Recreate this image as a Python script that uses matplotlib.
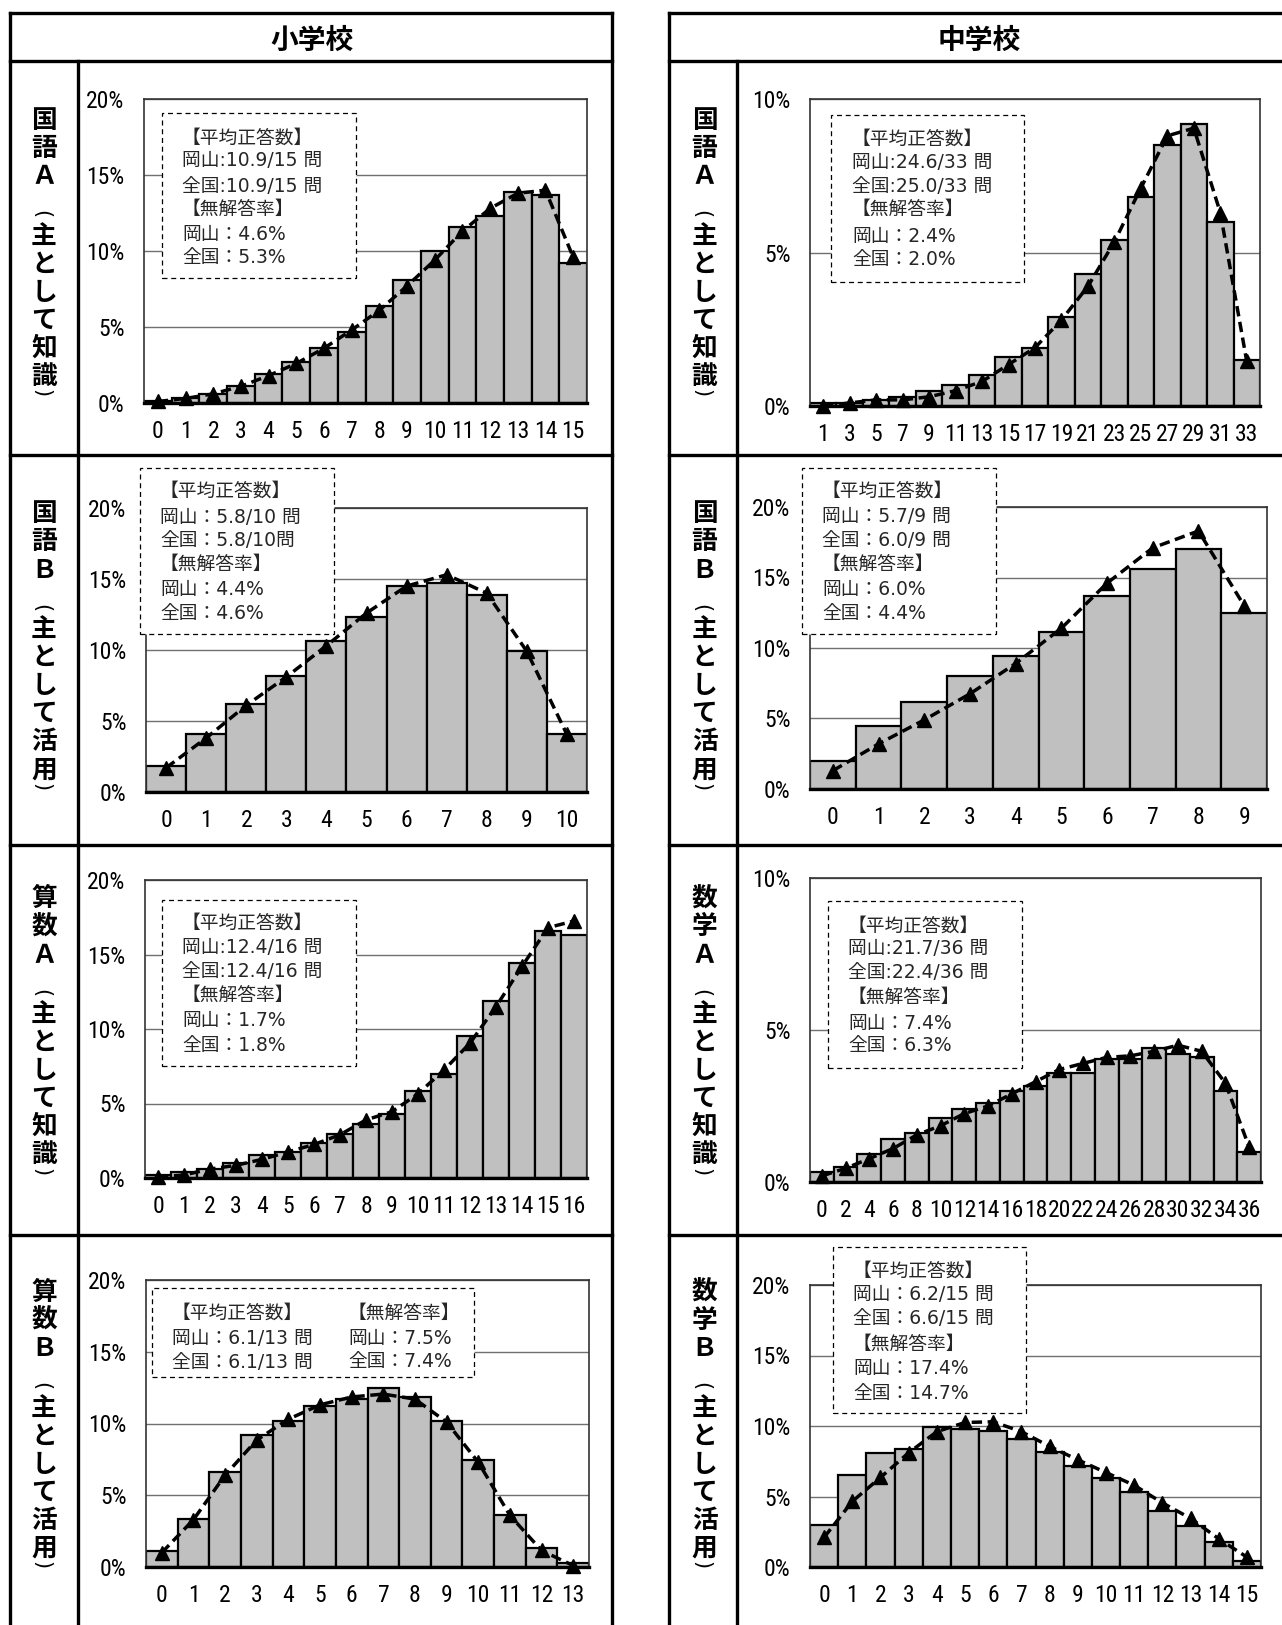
import matplotlib
matplotlib.use("Agg")
import matplotlib.pyplot as plt
from matplotlib.patches import Rectangle
from matplotlib.lines import Line2D
import numpy as np

W, H = 1282, 1625

# ---------------- data (% of students by number of correct answers) ----------------
# 小学校 国語A
shoKokugoA_labels = [str(i) for i in range(0, 16)]
shoKokugoA_okayama = [0.1, 0.3, 0.6, 1.1, 1.9, 2.7, 3.6, 4.7, 6.4, 8.1, 10.0, 11.6, 12.3, 13.9, 13.7, 9.2]
shoKokugoA_zenkoku = [0.1, 0.3, 0.6, 1.1, 1.8, 2.6, 3.6, 4.8, 6.1, 7.7, 9.4, 11.3, 12.8, 13.8, 14.0, 9.6]
shoKokugoA_text = ["【平均正答数】", "岡山:10.9/15 問", "全国:10.9/15 問",
                   "【無解答率】", "岡山：4.6%", "全国：5.3%"]

# 中学校 国語A
chuKokugoA_labels = [str(i) for i in range(1, 34, 2)]
chuKokugoA_okayama = [0.1, 0.1, 0.2, 0.3, 0.5, 0.7, 1.0, 1.6, 1.9, 2.9, 4.3, 5.4, 6.8, 8.5, 9.2, 6.0, 1.5]
chuKokugoA_zenkoku = [0.0, 0.1, 0.2, 0.2, 0.3, 0.5, 0.8, 1.35, 1.9, 2.8, 3.9, 5.35, 7.1, 8.8, 9.05, 6.3, 1.45]
chuKokugoA_text = ["【平均正答数】", "岡山:24.6/33 問", "全国:25.0/33 問",
                   "【無解答率】", "岡山：2.4%", "全国：2.0%"]

# 小学校 国語B
shoKokugoB_labels = [str(i) for i in range(0, 11)]
shoKokugoB_okayama = [1.8, 4.05, 6.2, 8.2, 10.6, 12.35, 14.5, 14.7, 13.9, 9.95, 4.1]
shoKokugoB_zenkoku = [1.7, 3.8, 6.1, 8.1, 10.3, 12.6, 14.5, 15.3, 14.0, 9.9, 4.05]
shoKokugoB_text = ["【平均正答数】", "岡山：5.8/10 問", "全国：5.8/10問",
                   "【無解答率】", "岡山：4.4%", "全国：4.6%"]

# 中学校 国語B
chuKokugoB_labels = [str(i) for i in range(0, 10)]
chuKokugoB_okayama = [2.0, 4.5, 6.2, 8.0, 9.4, 11.1, 13.7, 15.6, 17.0, 12.5]
chuKokugoB_zenkoku = [1.3, 3.2, 4.9, 6.75, 8.9, 11.4, 14.6, 17.1, 18.3, 13.0]
chuKokugoB_text = ["【平均正答数】", "岡山：5.7/9 問", "全国：6.0/9 問",
                   "【無解答率】", "岡山：6.0%", "全国：4.4%"]

# 小学校 算数A
shoSansuA_labels = [str(i) for i in range(0, 17)]
shoSansuA_okayama = [0.2, 0.4, 0.6, 1.0, 1.55, 1.75, 2.35, 2.95, 3.65, 4.3, 5.85, 6.95, 9.5, 11.9, 14.45, 16.6, 16.3]
shoSansuA_zenkoku = [0.07, 0.2, 0.6, 0.85, 1.25, 1.75, 2.25, 2.9, 3.9, 4.45, 5.65, 7.25, 9.05, 11.5, 14.2, 16.8, 17.25]
shoSansuA_text = ["【平均正答数】", "岡山:12.4/16 問", "全国:12.4/16 問",
                  "【無解答率】", "岡山：1.7%", "全国：1.8%"]

# 中学校 数学A
chuSugakuA_labels = [str(i) for i in range(0, 37, 2)]
chuSugakuA_okayama = [0.33, 0.5, 0.93, 1.4, 1.6, 2.1, 2.4, 2.6, 3.0, 3.15, 3.6, 3.6, 4.05, 4.05, 4.4, 4.2, 4.1, 3.0, 1.0]
chuSugakuA_zenkoku = [0.2, 0.45, 0.77, 1.1, 1.55, 1.85, 2.25, 2.5, 2.9, 3.3, 3.7, 3.9, 4.1, 4.15, 4.3, 4.5, 4.3, 3.25, 1.15]
chuSugakuA_text = ["【平均正答数】", "岡山:21.7/36 問", "全国:22.4/36 問",
                   "【無解答率】", "岡山：7.4%", "全国：6.3%"]

# 小学校 算数B
shoSansuB_labels = [str(i) for i in range(0, 14)]
shoSansuB_okayama = [1.1, 3.35, 6.6, 9.2, 10.15, 11.2, 11.7, 12.45, 11.85, 10.15, 7.45, 3.65, 1.35, 0.25]
shoSansuB_zenkoku = [1.0, 3.3, 6.4, 8.85, 10.3, 11.3, 11.85, 12.05, 11.7, 10.1, 7.3, 3.6, 1.15, 0.1]
shoSansuB_text1 = ["【平均正答数】", "岡山：6.1/13 問", "全国：6.1/13 問"]
shoSansuB_text2 = ["【無解答率】", "岡山：7.5%", "全国：7.4%"]

# 中学校 数学B
chuSugakuB_labels = [str(i) for i in range(0, 16)]
chuSugakuB_okayama = [3.0, 6.55, 8.1, 8.35, 9.95, 9.8, 9.65, 9.05, 8.15, 7.15, 6.3, 5.3, 4.0, 2.9, 1.75, 0.45]
chuSugakuB_zenkoku = [2.1, 4.65, 6.35, 8.1, 9.6, 10.25, 10.3, 9.6, 8.55, 7.6, 6.7, 5.8, 4.55, 3.45, 2.0, 0.7]
chuSugakuB_text = ["【平均正答数】", "岡山：6.2/15 問", "全国：6.6/15 問",
                   "【無解答率】", "岡山：17.4%", "全国：14.7%"]

# row titles, written top to bottom (parentheses are drawn turned)
rowLabels_sho = ["国語Ａ(主として知識)", "国語Ｂ(主として活用)",
                 "算数Ａ(主として知識)", "算数Ｂ(主として活用)"]
rowLabels_chu = ["国語Ａ(主として知識)", "国語Ｂ(主として活用)",
                 "数学Ａ(主として知識)", "数学Ｂ(主として活用)"]

# ---------------- style ----------------
jpFont = "Noto Sans CJK JP"
numFont = ["Roboto Condensed", "DejaVu Sans Condensed", "Liberation Sans Narrow", "Liberation Sans"]
boxFont = ["DejaVu Sans", jpFont]

fig = plt.figure(figsize=(W / 100, H / 100), dpi=100)
fig.patch.set_facecolor("white")


def hline(x0, x1, y, lw=2.4):
    fig.add_artist(Line2D([x0 / W, x1 / W], [1 - y / H, 1 - y / H], color="black",
                          lw=lw, transform=fig.transFigure, solid_capstyle="projecting"))


def vline(x, y0, y1, lw=2.4):
    fig.add_artist(Line2D([x / W, x / W], [1 - y0 / H, 1 - y1 / H], color="black",
                          lw=lw, transform=fig.transFigure, solid_capstyle="projecting"))


def ftext(x, y, s, **kw):
    return fig.text(x / W, 1 - y / H, s, **kw)


def chart(box, labels, okayama, zenkoku, ymax, ystep):
    left, top, right, bottom = box
    ax = fig.add_axes([left / W, 1 - bottom / H, (right - left) / W, (bottom - top) / H])
    x = np.arange(len(okayama))
    ax.bar(x, okayama, width=1.0, color="#c0c0c0", edgecolor="black", linewidth=1.6, zorder=2)
    ax.plot(x, zenkoku, color="black", lw=2.5, ls=(0, (3, 1.6)), marker="^", ms=10.5,
            zorder=3, clip_on=False)
    ax.set_xlim(-0.5, len(okayama) - 0.5)
    ax.set_ylim(0, ymax)
    yt = np.arange(0, ymax + 0.01, ystep)
    ax.set_yticks(yt)
    ax.set_yticklabels([f"{int(v)}%" for v in yt], family=numFont, fontsize=17)
    ax.set_xticks(x)
    ax.set_xticklabels(labels, family=numFont, fontsize=17)
    ax.tick_params(axis="y", length=0, pad=14)
    ax.tick_params(axis="x", length=0, pad=12)
    ax.yaxis.grid(True, color="#707070", lw=1.0)
    ax.set_axisbelow(True)
    for s in ["top", "right", "left"]:
        ax.spines[s].set_color("#333333")
        ax.spines[s].set_linewidth(1.2)
    ax.spines["bottom"].set_linewidth(2.4)
    ax.spines["bottom"].set_zorder(4)
    return ax


def infobox(x0, y0, x1, y1):
    fig.add_artist(Rectangle((x0 / W, 1 - y1 / H), (x1 - x0) / W, (y1 - y0) / H,
                             transform=fig.transFigure, facecolor="white", edgecolor="black",
                             lw=0.9, ls=(0, (4, 3)), zorder=5))


def infotext(x, ys, lines):
    for y, s in zip(ys, lines):
        ftext(x, y + 1, s, ha="left", va="center", fontsize=13.5, family=boxFont,
              color="#262626", zorder=6)


def rowlabel(cx, y0, label):
    offs = [0, 28, 57, 96, 116, 144, 172, 200, 228, 256, 275]
    for ch, o in zip(label, offs):
        if ch in "()":
            ftext(cx - 3, y0 + o, ch, ha="center", va="center", fontsize=15,
                  family="DejaVu Sans", rotation=-90)
        else:
            ftext(cx, y0 + o + 2, ch, ha="center", va="center", fontsize=18.5,
                  family=jpFont, weight="bold")


# ---------------- table frame ----------------
rowSeps = [455, 844.5, 1235]
# 小学校
hline(10, 612, 13)
hline(10, 612, 61)
vline(10, 13, 1630)
vline(612, 13, 1630)
vline(77.5, 61, 1630)
for y in rowSeps:
    hline(10, 612, y)
# 中学校
hline(669, 1290, 13)
hline(669, 1290, 61)
vline(669, 13, 1630)
vline(737, 61, 1630)
for y in rowSeps:
    hline(669, 1290, y)

ftext(312, 41, "小学校", ha="center", va="center", fontsize=20, family=jpFont, weight="bold")
ftext(979, 41, "中学校", ha="center", va="center", fontsize=20, family=jpFont, weight="bold")

rowStarts = [118, 511.7, 896.7, 1290]
for y0, lab in zip(rowStarts, rowLabels_sho):
    rowlabel(44, y0, lab)
for y0, lab in zip(rowStarts, rowLabels_chu):
    rowlabel(704.5, y0, lab)

# ---------------- charts ----------------
chart((144, 99, 587, 403), shoKokugoA_labels, shoKokugoA_okayama, shoKokugoA_zenkoku, 20, 5)
infobox(162, 113, 356, 278)
infotext(182, [137, 160, 185, 208, 233, 257], shoKokugoA_text)

chart((810, 99, 1260, 406), chuKokugoA_labels, chuKokugoA_okayama, chuKokugoA_zenkoku, 10, 5)
infobox(831, 115, 1024, 282)
infotext(852, [138, 162, 185, 208, 235, 258], chuKokugoA_text)

chart((146, 508, 587, 792), shoKokugoB_labels, shoKokugoB_okayama, shoKokugoB_zenkoku, 20, 5)
infobox(140, 468, 334, 634)
infotext(160, [490, 516, 540, 563, 588, 612], shoKokugoB_text)

chart((810, 507, 1267, 789), chuKokugoB_labels, chuKokugoB_okayama, chuKokugoB_zenkoku, 20, 5)
infobox(802, 468, 996, 634)
infotext(822, [490, 515, 539, 563, 588, 613], chuKokugoB_text)

chart((145, 880, 587, 1178), shoSansuA_labels, shoSansuA_okayama, shoSansuA_zenkoku, 20, 5)
infobox(162, 900, 356, 1066)
infotext(182, [922, 946, 970, 994, 1019, 1044], shoSansuA_text)

chart((810, 878, 1261, 1182), chuSugakuA_labels, chuSugakuA_okayama, chuSugakuA_zenkoku, 10, 5)
infobox(828, 901, 1022, 1068)
infotext(848, [925, 948, 972, 996, 1022, 1045], chuSugakuA_text)

chart((146, 1280, 589, 1567), shoSansuB_labels, shoSansuB_okayama, shoSansuB_zenkoku, 20, 5)
infobox(152, 1288, 474, 1377)
infotext(172, [1312, 1337, 1361], shoSansuB_text1)
infotext(348, [1312, 1337, 1361], shoSansuB_text2)

chart((810, 1285, 1261, 1567), chuSugakuB_labels, chuSugakuB_okayama, chuSugakuB_zenkoku, 20, 5)
infobox(833, 1247, 1026, 1413)
infotext(853, [1270, 1294, 1318, 1343, 1367, 1392], chuSugakuB_text)

fig.savefig("out.png", dpi=100, facecolor="white")
